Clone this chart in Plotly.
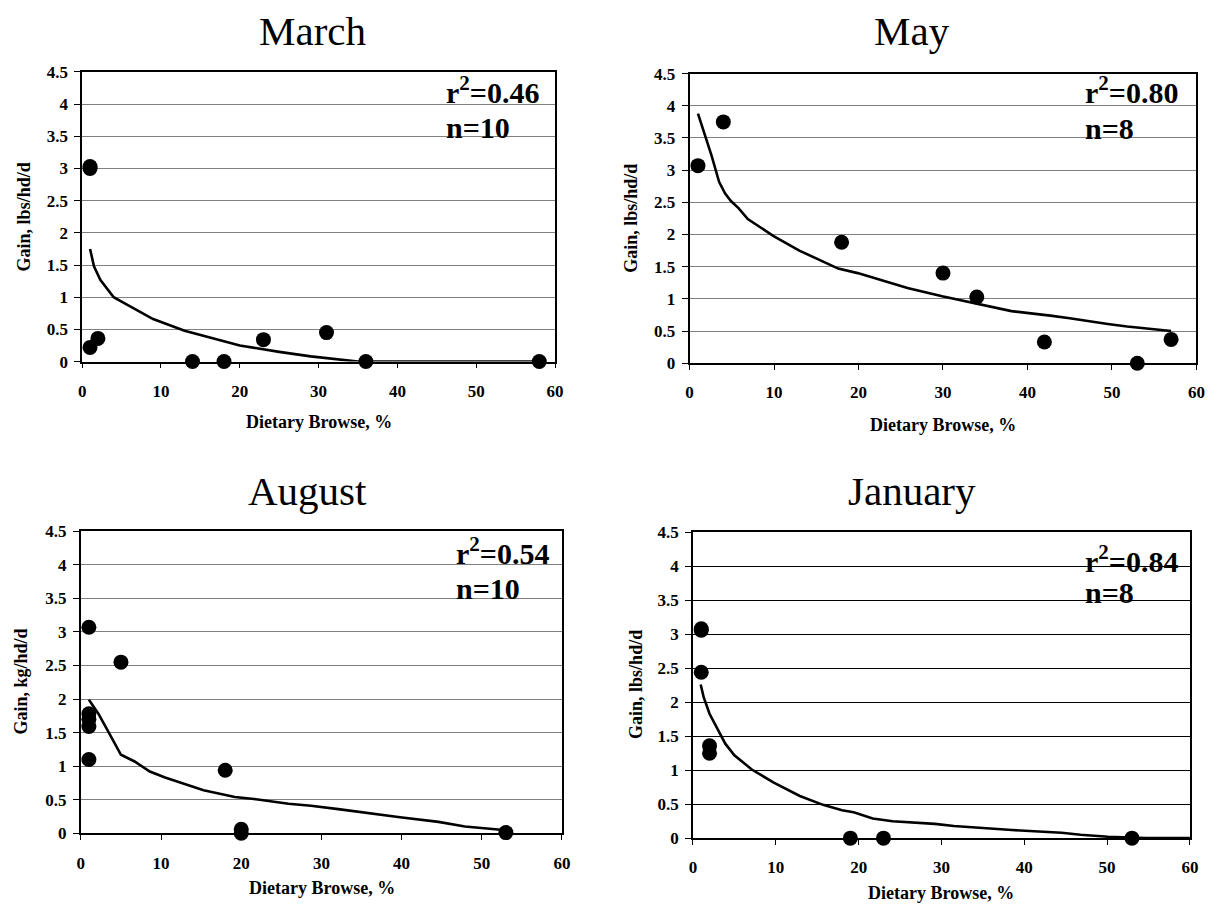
import plotly.graph_objects as go

# ---- observed points: dietary browse (%) vs. gain ----
march_x = [1, 1, 1, 2, 14, 18, 23, 31, 36, 58]
march_y = [3.0, 3.03, 0.22, 0.36, 0.0, 0.0, 0.34, 0.45, 0.0, 0.0]

may_x = [1, 4, 18, 30, 34, 42, 53, 57]
may_y = [3.07, 3.75, 1.88, 1.40, 1.03, 0.33, 0.0, 0.37]

aug_x = [1, 5, 1, 1, 1, 1, 18, 20, 20, 53]
aug_y = [3.07, 2.55, 1.78, 1.70, 1.59, 1.10, 0.94, 0.06, 0.0, 0.01]

jan_x = [1, 1, 1, 2, 2, 19, 23, 53]
jan_y = [3.08, 3.06, 2.44, 1.36, 1.25, 0.0, 0.0, 0.0]

# ---- fitted trend lines ----
march_fit_x = [1, 1.5, 2.3, 4, 5, 7, 9, 13, 15.5, 20, 25, 29, 35, 58]
march_fit_y = [1.75, 1.48, 1.27, 1.0, 0.93, 0.80, 0.66, 0.48, 0.40, 0.25, 0.15, 0.08, 0.0, 0.0]

may_fit_x = [1, 1.9, 2.6, 3.5, 4.2, 4.9, 5.8, 6.9, 9.9, 13, 14.9, 17.6, 19.9, 25.8, 29.9,
             34, 38.1, 42.7, 45, 49.5, 51.8, 57]
may_fit_y = [3.88, 3.53, 3.23, 2.82, 2.64, 2.52, 2.41, 2.24, 1.98, 1.75, 1.63, 1.47, 1.40,
             1.17, 1.04, 0.92, 0.81, 0.74, 0.70, 0.61, 0.57, 0.50]

aug_fit_x = [1, 2.2, 3.35, 5, 6.7, 8.6, 10.5, 12.9, 15.3, 19.2, 21.6, 25.9, 28.7, 32.1,
             34.5, 39.8, 44.6, 47.9, 52.7]
aug_fit_y = [1.99, 1.78, 1.53, 1.17, 1.07, 0.92, 0.83, 0.73, 0.64, 0.54, 0.51, 0.44, 0.41,
             0.36, 0.32, 0.24, 0.17, 0.10, 0.05]

jan_fit_x = [0.93, 1.3, 2.0, 2.7, 3.9, 5.0, 7.1, 9.7, 12.9, 15.7, 18, 19.4, 19.9, 21.7,
             24.1, 29.2, 31.5, 36.2, 38.5, 44.5, 46.8, 50.1, 54.7, 60]
jan_fit_y = [2.26, 2.07, 1.83, 1.66, 1.39, 1.22, 1.01, 0.82, 0.62, 0.49, 0.41, 0.38, 0.36,
             0.29, 0.25, 0.21, 0.18, 0.14, 0.12, 0.08, 0.05, 0.02, 0.0, 0.0]

titles = ["March", "May", "August", "January"]
y_titles = ["Gain, lbs/hd/d", "Gain, lbs/hd/d", "Gain, kg/hd/d", "Gain, lbs/hd/d"]
r2_labels = ["0.46", "0.80", "0.54", "0.84"]
n_labels = ["10", "8", "10", "8"]

x_ticks = [0, 10, 20, 30, 40, 50, 60]
x_tick_text = ["0", "10", "20", "30", "40", "50", "60"]
y_ticks = [0, 0.5, 1, 1.5, 2, 2.5, 3, 3.5, 4, 4.5]
y_tick_text = ["0", "0.5", "1", "1.5", "2", "2.5", "3", "3.5", "4", "4.5"]

W, H = 1220, 918
SERIF = "Times New Roman"

# plot-area boxes in pixels: left, right, top, bottom
boxes = [
    (79.0, 557.0, 64.3, 360.0),
    (692.9, 1205.3, 66.0, 361.7),
    (77.7, 564.0, 533.3, 841.7),
    (696.4, 1198.7, 534.3, 846.7),
]
grid_colors = ["#808080", "#808080", "#808080", "#000000"]
title_pos = [(312, 22), (918, 22), (307, 492), (918, 492)]
ytitle_pos = [(20, 212), (633, 214), (17, 687), (639, 690)]
xtitle_pos = [(318, 422), (949, 425), (321, 898), (947, 903)]
# stat labels: (x data, y data for r^2, y data for n)
stat_pos = [(45.9, 4.22, 3.64), (46.6, 4.24, 3.65), (46.5, 4.21, 3.65), (47.1, 4.10, 3.62)]

points = [(march_x, march_y), (may_x, may_y), (aug_x, aug_y), (jan_x, jan_y)]
fits = [(march_fit_x, march_fit_y), (may_fit_x, may_fit_y),
        (aug_fit_x, aug_fit_y), (jan_fit_x, jan_fit_y)]

tick_font = dict(family=SERIF, size=17, color="black")

fig = go.Figure()
annotations = []

for i in range(4):
    n = "" if i == 0 else str(i + 1)
    xa, ya = "x" + n, "y" + n
    fx, fy = fits[i]
    px, py = points[i]
    fig.add_trace(go.Scatter(x=fx, y=fy, mode="lines", xaxis=xa, yaxis=ya,
                             line=dict(color="black", width=2.6), showlegend=False,
                             hoverinfo="skip"))
    fig.add_trace(go.Scatter(x=px, y=py, mode="markers", xaxis=xa, yaxis=ya,
                             marker=dict(color="black", size=15), cliponaxis=False,
                             showlegend=False))

    l, r, t, b = boxes[i]
    fig.layout["xaxis" + n] = dict(
        domain=[l / W, r / W], anchor=ya, range=[0, 60], tickmode="array",
        tickvals=x_ticks, ticktext=["<b>" + s + "</b>" for s in x_tick_text],
        tickfont=tick_font, showgrid=False, ticklen=5, ticklabelstandoff=8,
        showline=True, linecolor="black", linewidth=1.7, mirror=True,
        ticks="outside", tickcolor="black", tickwidth=1.3, zeroline=False)
    fig.layout["yaxis" + n] = dict(
        domain=[1 - b / H, 1 - t / H], anchor=xa, range=[0, 4.5], tickmode="array",
        tickvals=y_ticks, ticktext=["<b>" + s + "</b>" for s in y_tick_text],
        tickfont=tick_font, showgrid=True, gridcolor=grid_colors[i], gridwidth=1.3,
        ticklen=6, ticklabelstandoff=3,
        showline=True, linecolor="black", linewidth=1.7, mirror=True,
        ticks="outside", tickcolor="black", tickwidth=1.3, zeroline=False)

    tx, ty = title_pos[i]
    annotations.append(dict(text=titles[i], x=tx / W, y=1 - ty / H, xref="paper",
                            yref="paper", xanchor="center", yanchor="middle",
                            showarrow=False,
                            font=dict(family=SERIF, size=41, color="black")))
    yx, yy = ytitle_pos[i]
    annotations.append(dict(text="<b>" + y_titles[i] + "</b>", x=yx / W, y=1 - yy / H,
                            xref="paper", yref="paper", xanchor="center",
                            yanchor="middle", textangle=-90, showarrow=False,
                            font=dict(family=SERIF, size=18, color="black")))
    xx, xy = xtitle_pos[i]
    annotations.append(dict(text="<b>Dietary Browse, %</b>", x=xx / W, y=1 - xy / H,
                            xref="paper", yref="paper", xanchor="center",
                            yanchor="middle", showarrow=False,
                            font=dict(family=SERIF, size=18, color="black")))
    sx, sr, sn = stat_pos[i]
    annotations.append(dict(text="<b>r<sup>2</sup>=" + r2_labels[i] + "</b>", x=sx, y=sr,
                            xref=xa, yref=ya, xanchor="left", yanchor="middle",
                            showarrow=False,
                            font=dict(family=SERIF, size=30, color="black")))
    annotations.append(dict(text="<b>n=" + n_labels[i] + "</b>", x=sx, y=sn,
                            xref=xa, yref=ya, xanchor="left", yanchor="middle",
                            showarrow=False,
                            font=dict(family=SERIF, size=30, color="black")))

fig.update_layout(
    width=W, height=H, margin=dict(l=0, r=0, t=0, b=0),
    paper_bgcolor="white", plot_bgcolor="white",
    font=dict(family=SERIF, color="black"),
    annotations=annotations, showlegend=False,
)

fig.write_html("out.html")
